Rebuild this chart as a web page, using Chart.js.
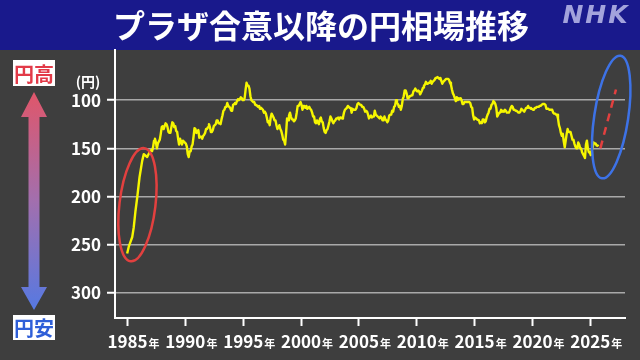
<!DOCTYPE html>
<html lang="ja">
<head>
<meta charset="utf-8">
<title>プラザ合意以降の円相場推移</title>
<script src="https://cdn.jsdelivr.net/npm/chart.js@4.4.1/dist/chart.umd.min.js"></script>
<style>
  html, body { margin: 0; padding: 0; background: #3e3e3e; }
  #wrap { width: 640px; height: 360px; }
</style>
</head>
<body>
<div id="wrap"><canvas id="chart" width="640" height="360"></canvas></div>
<script>
// dollar-yen (yen per dollar)
const earlyYears = [1984.97, 1985.11, 1985.41, 1985.54, 1985.69, 1985.84, 1986.04, 1986.27, 1986.41, 1986.7, 1986.95];
const earlyRates = [259, 252, 242, 232, 215, 201, 180, 163, 156, 159, 153];

// monthly from Jan 1987
const monthlyStart = 1987;
const monthlyRates = [
    152, 153, 149, 142, 140, 144, 150, 145, 143, 141, 135, 128,
    127, 130, 127, 124, 125, 128, 133, 134, 134, 128, 123, 124,
    128, 127, 132, 133, 140, 146, 140, 143, 146, 142, 143, 144,
    145, 148, 156, 159, 153, 153, 148, 146, 138, 129, 130, 134,
    133, 131, 139, 138, 138, 140, 137, 136, 134, 130, 130, 128,
    125, 128, 133, 133, 131, 127, 126, 125, 121, 121, 124, 124,
    125, 120, 116, 111, 110, 107, 107, 103, 106, 107, 108, 111,
    111, 105, 104, 103, 104, 101, 99, 100, 99, 97, 98, 100,
    100, 98, 89, 82, 85, 85, 88, 96, 100, 101, 102, 102,
    105, 105, 106, 107, 106, 109, 108, 108, 110, 113, 112, 114,
    118, 123, 122, 126, 118, 114, 116, 118, 121, 121, 126, 130,
    128, 126, 130, 132, 136, 141, 142, 146, 134, 119, 121, 116,
    113, 117, 120, 120, 122, 121, 119, 113, 106, 106, 104, 102,
    105, 110, 106, 106, 108, 106, 109, 108, 107, 109, 110, 113,
    117, 117, 123, 124, 121, 123, 125, 120, 118, 122, 123, 129,
    133, 134, 131, 130, 126, 122, 117, 119, 122, 124, 122, 121,
    119, 119, 118, 120, 118, 118, 119, 118, 113, 110, 109, 108,
    106, 107, 108, 108, 113, 109, 110, 110, 110, 108, 104, 103,
    104, 105, 105, 107, 107, 109, 112, 111, 112, 115, 119, 119,
    116, 118, 117, 117, 111, 115, 116, 117, 118, 119, 117, 118,
    121, 121, 117, 120, 121, 123, 121, 116, 115, 115, 111, 112,
    107, 106, 100, 103, 104, 107, 106, 110, 106, 99, 96, 90,
    90, 93, 98, 98, 96, 96, 95, 95, 91, 90, 88, 90,
    91, 90, 91, 94, 92, 90, 87, 85, 84, 81, 83, 83,
    82, 82, 80, 83, 81, 80, 79, 77, 77, 76, 77, 78,
    77, 80, 83, 81, 80, 79, 78, 78, 78, 79, 82, 84,
    89, 93, 95, 98, 101, 97, 100, 98, 99, 98, 100, 104,
    104, 102, 102, 102, 102, 102, 102, 103, 107, 108, 116, 120,
    118, 119, 120, 120, 121, 124, 123, 124, 120, 120, 123, 122,
    118, 115, 113, 109, 109, 105, 104, 101, 102, 104, 108, 117,
    115, 113, 113, 110, 112, 111, 112, 110, 111, 113, 113, 113,
    111, 108, 106, 107, 110, 110, 111, 111, 112, 113, 113, 112,
    109, 110, 111, 112, 110, 108, 108, 106, 108, 108, 109, 109,
    110, 110, 108, 108, 107, 107, 107, 106, 106, 105, 104, 104,
    104, 105, 109, 109, 109, 110, 110, 110, 110, 113, 114, 114,
    115, 115, 119, 126, 129, 134, 137, 135, 143, 149, 142, 135,
    130, 133, 133, 133, 137, 141, 141, 145, 148, 150, 150, 144,
    146, 150, 150, 154, 156, 158, 160, 146, 142, 150, 154, 154,
    157, 152, 149, 144, 145, 145, 147, 147, 148
];

// red dashed projection
const forecastYears = [2025.87, 2027.22];
const forecastRates = [150, 89];

const xTicks = [1985, 1990, 1995, 2000, 2005, 2010, 2015, 2020, 2025];
const yTicks = [100, 150, 200, 250, 300];

const titleText = 'プラザ合意以降の円相場推移';

const highlights = [
    { year: 1985.86, yen: 208.5, rx: 18, ry: 57, tilt: 0.12, color: '#e2403f' },
    { year: 2026.81, yen: 117.5, rx: 17, ry: 62, tilt: 0.15, color: '#3d72e6' },
];

const jpFont = '"Noto Sans CJK JP", "Noto Sans", sans-serif';

const ratePoints = [
    ...earlyYears.map((year, i) => ({ x: year, y: earlyRates[i] })),
    ...monthlyRates.map((value, i) => ({ x: monthlyStart + i / 12 + 1 / 24, y: value })),
];
const forecastPoints = forecastYears.map((year, i) => ({ x: year, y: forecastRates[i] }));

const decor = {
    id: 'decor',
    beforeDraw(chart) {
        const { ctx, width } = chart;
        ctx.save();
        ctx.fillStyle = '#3e3e3e';
        ctx.fillRect(0, 0, width, chart.height);
        ctx.fillStyle = '#19198c';
        ctx.fillRect(0, 0, width, 50);
        ctx.restore();
    },
    afterDatasetsDraw(chart) {
        const { ctx } = chart;
        const xs = chart.scales.x;
        const ys = chart.scales.y;
        ctx.save();
        highlights.forEach((h) => {
            ctx.beginPath();
            ctx.ellipse(xs.getPixelForValue(h.year), ys.getPixelForValue(h.yen), h.rx, h.ry, h.tilt, 0, Math.PI * 2);
            ctx.strokeStyle = h.color;
            ctx.lineWidth = 2.5;
            ctx.stroke();
        });
        ctx.restore();
    },
    afterDraw(chart) {
        const { ctx } = chart;
        const xs = chart.scales.x;
        ctx.save();

        // title
        ctx.fillStyle = '#ffffff';
        ctx.font = `bold 32px ${jpFont}`;
        ctx.textAlign = 'center';
        ctx.textBaseline = 'middle';
        ctx.fillText(titleText, 321, 26);

        // logo
        ctx.fillStyle = '#a3a3dc';
        ctx.font = 'italic bold 25px "DejaVu Sans", sans-serif';
        ctx.letterSpacing = '2px';
        ctx.fillText('NHK', 596, 16);
        ctx.letterSpacing = '0px';

        // unit
        ctx.fillStyle = '#ffffff';
        ctx.font = `bold 14px ${jpFont}`;
        ctx.fillText('(円)', 88, 82);

        // 年 after each year label
        ctx.font = `bold 17px ${jpFont}`;
        const numW = xTicks.map((v) => ctx.measureText(String(v)).width);
        ctx.font = `bold 11px ${jpFont}`;
        ctx.textAlign = 'left';
        ctx.textBaseline = 'alphabetic';
        xTicks.forEach((v, i) => {
            ctx.fillText('年', xs.getPixelForValue(v) + numW[i] / 2 + 1, 348);
        });

        // 円高 / 円安 arrow
        const ax = 34;
        const grad = ctx.createLinearGradient(0, 92, 0, 310);
        grad.addColorStop(0, '#e0566a');
        grad.addColorStop(0.5, '#a26fae');
        grad.addColorStop(1, '#5679e2');
        ctx.fillStyle = grad;
        ctx.beginPath();
        ctx.moveTo(ax, 92);
        ctx.lineTo(ax + 13, 117);
        ctx.lineTo(ax + 5.5, 117);
        ctx.lineTo(ax + 5.5, 287);
        ctx.lineTo(ax + 13, 287);
        ctx.lineTo(ax, 310);
        ctx.lineTo(ax - 13, 287);
        ctx.lineTo(ax - 5.5, 287);
        ctx.lineTo(ax - 5.5, 117);
        ctx.lineTo(ax - 13, 117);
        ctx.closePath();
        ctx.fill();

        ctx.fillStyle = '#ffffff';
        ctx.fillRect(13, 60, 42, 26);
        ctx.fillRect(13, 315, 42, 25);
        ctx.font = `bold 20px ${jpFont}`;
        ctx.textAlign = 'center';
        ctx.textBaseline = 'middle';
        ctx.fillStyle = '#e23a48';
        ctx.fillText('円高', 34, 74);
        ctx.fillStyle = '#2f5fd8';
        ctx.fillText('円安', 34, 328);

        ctx.restore();
    },
};

new Chart(document.getElementById('chart').getContext('2d'), {
    type: 'line',
    data: {
        datasets: [
            {
                label: '円相場',
                data: ratePoints,
                borderColor: '#f6f600',
                borderWidth: 2.4,
                pointRadius: 0,
                tension: 0,
                borderJoinStyle: 'round',
            },
            {
                label: '見通し',
                data: forecastPoints,
                borderColor: '#e2403f',
                borderWidth: 2.5,
                borderDash: [8, 6],
                pointRadius: 0,
            },
        ],
    },
    options: {
        responsive: false,
        animation: false,
        layout: { padding: { top: 50, right: 15, left: 0, bottom: 0 } },
        plugins: {
            legend: { display: false },
            tooltip: { enabled: false },
        },
        scales: {
            x: {
                type: 'linear',
                min: 1983.92,
                max: 2028,
                afterFit(scale) { scale.height = 42; },
                afterBuildTicks(scale) { scale.ticks = xTicks.map((v) => ({ value: v })); },
                border: { color: '#ffffff', width: 2 },
                grid: {
                    drawOnChartArea: false,
                    drawTicks: true,
                    tickLength: 8,
                    tickColor: '#ffffff',
                    tickWidth: 2,
                },
                ticks: {
                    color: '#ffffff',
                    padding: 5,
                    maxRotation: 0,
                    autoSkip: false,
                    font: { family: jpFont, size: 17, weight: 'bold' },
                    callback(value) { return String(value); },
                },
            },
            y: {
                type: 'linear',
                reverse: true,
                min: 48,
                max: 326,
                afterFit(scale) { scale.width = 115; },
                afterBuildTicks(scale) { scale.ticks = yTicks.map((v) => ({ value: v })); },
                border: { color: '#ffffff', width: 2 },
                grid: {
                    color: '#a9a9a9',
                    lineWidth: 1.5,
                    tickLength: 8,
                    tickColor: '#ffffff',
                    tickWidth: 2,
                },
                ticks: {
                    color: '#ffffff',
                    padding: 6,
                    font: { family: jpFont, size: 17, weight: 'bold' },
                    callback(value) { return String(value); },
                },
            },
        },
    },
    plugins: [decor],
});
</script>
</body>
</html>
